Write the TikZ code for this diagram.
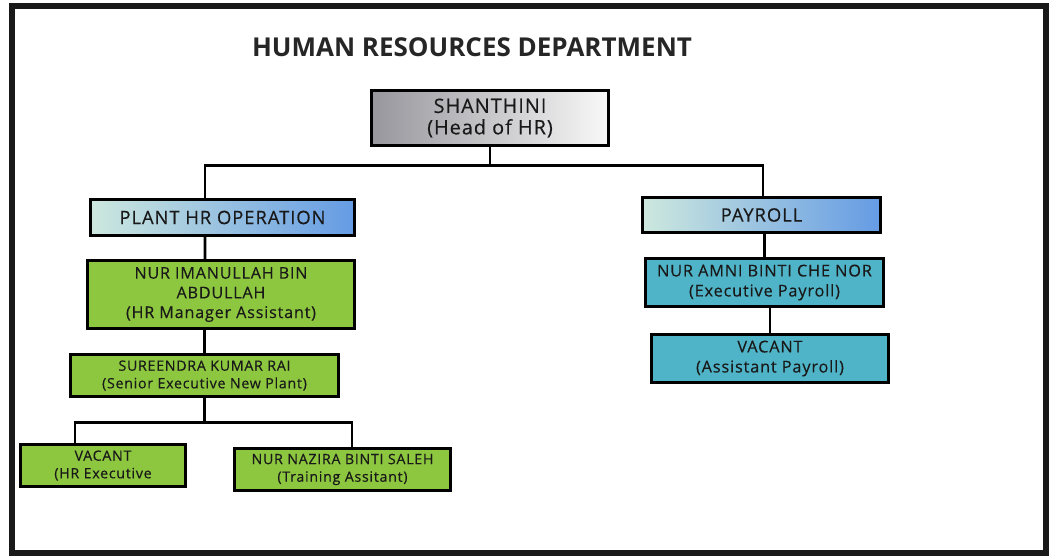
\documentclass[tikz,border=0pt]{standalone}
\usepackage{fontspec}
\setsansfont{Open Sans}[LetterSpace=5, FakeBold=0.3]
\newfontfamily\titlefont{Open Sans}
\usepackage{tikz}
\usetikzlibrary{positioning}
\definecolor{staffgreen}{RGB}{141,198,63}
\definecolor{payteal}{RGB}{80,180,200}
\definecolor{deptmint}{RGB}{205,232,222}
\definecolor{deptblue}{RGB}{100,155,228}
\definecolor{headgray}{RGB}{150,150,156}
\tikzset{%
  % Specifications for style of nodes:
            base/.style = {rectangle, draw=black, line width=1.6pt,
                           text centered, align=center, inner sep=1pt,
                           text=black!90,
                           font=\sffamily\fontsize{9.2}{11.2}\selectfont},
         headbox/.style = {base, left color=headgray, right color=white!95!gray,
                           font=\sffamily\fontsize{11.3}{12.2}\selectfont},
         deptbox/.style = {base, left color=deptmint, right color=deptblue,
                           font=\sffamily\fontsize{10.5}{12}\selectfont},
        staffbox/.style = {base, fill=staffgreen},
      smallstaff/.style = {staffbox, font=\sffamily\fontsize{8.1}{10}\selectfont},
          paybox/.style = {base, fill=payteal, font=\sffamily\fontsize{9.3}{11.4}\selectfont},
            link/.style = {draw, line width=1.6pt},
}

\begin{document}
\begin{tikzpicture}[x=0.02cm, y=-0.02cm]

\useasboundingbox (0,0) rectangle (1049,557);
\draw[line width=3pt, black!90] (12,6) rectangle (1046,553);

\node (Title) [font=\titlefont\bfseries\fontsize{14.8}{18}\selectfont, text=black!85] at (472,47)
    {HUMAN RESOURCES DEPARTMENT};

\node (Head)      [headbox, minimum width=4.75cm, minimum height=1.11cm] at (490,118)
    {SHANTHINI\\(Head of HR)};

\node (Plant)     [deptbox, minimum width=5.29cm, minimum height=0.73cm] at (222.5,217.5)
    {PLANT HR OPERATION};
\node (Payroll)   [deptbox, minimum width=4.77cm, minimum height=0.71cm] at (761.5,215)
    {PAYROLL};

\node (Imanullah) [staffbox, minimum width=5.35cm, minimum height=1.37cm] at (221,294.5)
    {NUR IMANULLAH BIN\\ABDULLAH\\(HR Manager Assistant)};
\node (Sureendra) [smallstaff, minimum width=5.37cm, minimum height=0.85cm] at (204.5,375.5)
    {SUREENDRA KUMAR RAI\\(Senior Executive New Plant)};
\node (VacantHR)  [smallstaff, minimum width=3.31cm, minimum height=0.85cm] at (103,465.5)
    {VACANT\\(HR Executive};
\node (Nazira)    [smallstaff, minimum width=4.33cm, minimum height=0.85cm] at (342.5,469.5)
    {NUR NAZIRA BINTI SALEH\\(Training Assitant)};

\node (Amni)      [paybox, minimum width=4.77cm, minimum height=0.97cm] at (764.5,282.5)
    {NUR AMNI BINTI CHE NOR\\(Executive Payroll)};
\node (VacantPay) [paybox, minimum width=4.75cm, minimum height=0.97cm] at (770,358.5)
    {VACANT\\(Assistant Payroll)};

\draw[link] (Head.south) -- ++(0,18) -| ([xshift=-0.35cm]Plant.north);
\draw[link] (Head.south) -- ++(0,18) -| ([xshift=0.03cm]Payroll.north);
\draw[link] ([xshift=-0.35cm]Plant.south) -- ([xshift=-0.32cm]Imanullah.north);
\draw[link] (Sureendra.north) -- (Sureendra.north |- Imanullah.south);
\draw[link] (Sureendra.south) -- ++(0,24) -| ([xshift=-0.56cm]VacantHR.north);
\draw[link] (Sureendra.south) -- ++(0,24) -| ([xshift=0.19cm]Nazira.north);
\draw[link] (Amni.north) -- (Amni.north |- Payroll.south);
\draw[link] (VacantPay.north) -- (VacantPay.north |- Amni.south);
  \end{tikzpicture}
\end{document}
